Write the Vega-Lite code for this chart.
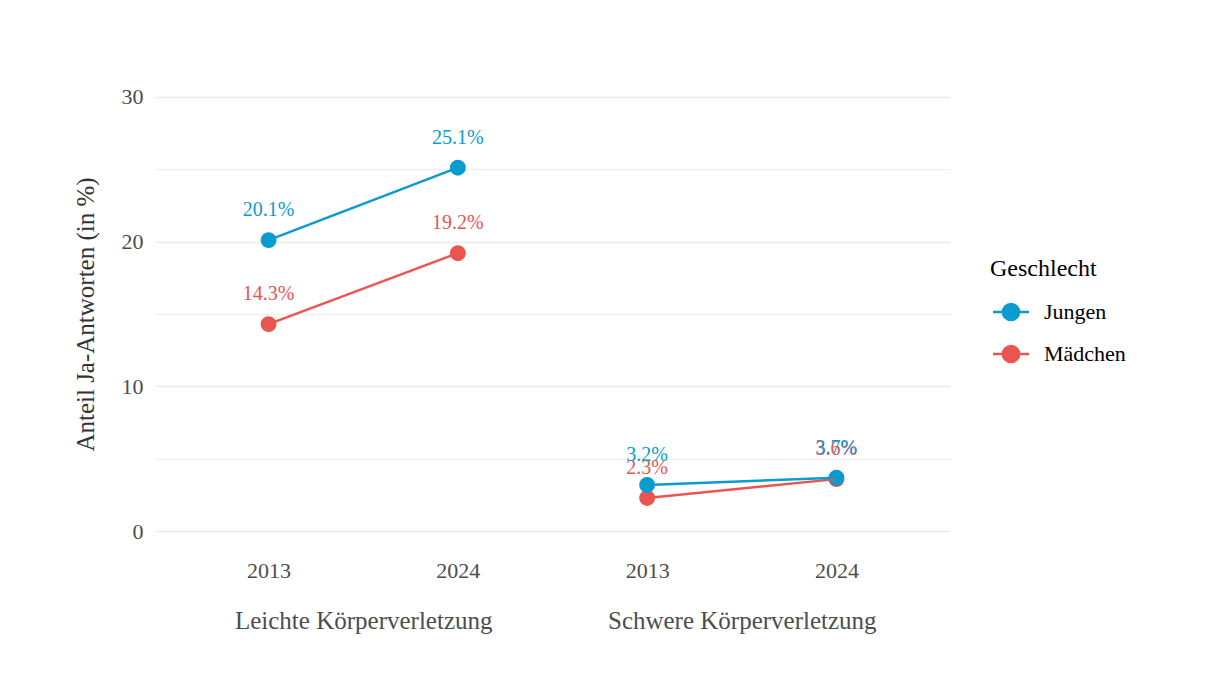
{
  "$schema": "https://vega.github.io/schema/vega-lite/v6.json",
  "width": 795,
  "height": 478,
  "autosize": {"type": "none"},
  "padding": {"left": 155, "top": 75, "right": 258, "bottom": 136},
  "background": "white",
  "config": {
    "view": {"stroke": null},
    "font": "Liberation Serif",
    "legend": {
      "titleFont": "Liberation Serif",
      "titleFontSize": 24,
      "titleFontWeight": "normal",
      "titleColor": "#000000",
      "labelFont": "Liberation Serif",
      "labelFontSize": 22,
      "labelColor": "#000000",
      "symbolSize": 324,
      "symbolStrokeWidth": 2.5,
      "symbolOffset": 10,
      "labelOffset": 22,
      "rowPadding": 14,
      "titlePadding": 20
    }
  },
  "data": {
    "values": [
      {"Delikt": "Leichte Körperverletzung", "Jahr": "2013", "Kat": "Leichte Körperverletzung|2013", "Geschlecht": "Mädchen", "Anteil": 14.3, "Label": "14.3%"},
      {"Delikt": "Leichte Körperverletzung", "Jahr": "2024", "Kat": "Leichte Körperverletzung|2024", "Geschlecht": "Mädchen", "Anteil": 19.2, "Label": "19.2%"},
      {"Delikt": "Schwere Körperverletzung", "Jahr": "2013", "Kat": "Schwere Körperverletzung|2013", "Geschlecht": "Mädchen", "Anteil": 2.3, "Label": "2.3%"},
      {"Delikt": "Schwere Körperverletzung", "Jahr": "2024", "Kat": "Schwere Körperverletzung|2024", "Geschlecht": "Mädchen", "Anteil": 3.6, "Label": "3.6%"},
      {"Delikt": "Leichte Körperverletzung", "Jahr": "2013", "Kat": "Leichte Körperverletzung|2013", "Geschlecht": "Jungen", "Anteil": 20.1, "Label": "20.1%"},
      {"Delikt": "Leichte Körperverletzung", "Jahr": "2024", "Kat": "Leichte Körperverletzung|2024", "Geschlecht": "Jungen", "Anteil": 25.1, "Label": "25.1%"},
      {"Delikt": "Schwere Körperverletzung", "Jahr": "2013", "Kat": "Schwere Körperverletzung|2013", "Geschlecht": "Jungen", "Anteil": 3.2, "Label": "3.2%"},
      {"Delikt": "Schwere Körperverletzung", "Jahr": "2024", "Kat": "Schwere Körperverletzung|2024", "Geschlecht": "Jungen", "Anteil": 3.7, "Label": "3.7%"}
    ]
  },
  "layer": [
    {
      "mark": {"type": "point", "opacity": 0, "size": 1},
      "encoding": {
        "x": {
          "field": "Delikt",
          "type": "nominal",
          "scale": {"type": "point", "padding": 0.55},
          "axis": {
            "orient": "bottom",
            "title": null,
            "labelAngle": 0,
            "labelLimit": 0,
            "labelFontSize": 25,
            "labelFont": "Liberation Serif",
            "labelColor": "#4D4D4D",
            "labelBaseline": "alphabetic",
            "labelPadding": 75,
            "domain": false,
            "ticks": false,
            "tickSize": 0,
            "grid": false
          }
        }
      }
    },
    {
      "encoding": {
        "x": {
          "field": "Kat",
          "type": "nominal",
          "scale": {
            "type": "point",
            "padding": 0.6,
            "domain": ["Leichte Körperverletzung|2013", "Leichte Körperverletzung|2024", "Schwere Körperverletzung|2013", "Schwere Körperverletzung|2024"]
          },
          "axis": {
            "orient": "bottom",
            "title": null,
            "labelAngle": 0,
            "labelLimit": 0,
            "labelExpr": "split(datum.label, '|')[1]",
            "labelFontSize": 22,
            "labelFont": "Liberation Serif",
            "labelColor": "#4D4D4D",
            "labelBaseline": "alphabetic",
            "labelPadding": 24,
            "domain": false,
            "ticks": false,
            "tickSize": 0,
            "grid": false
          }
        },
        "y": {
          "field": "Anteil",
          "type": "quantitative",
          "scale": {"domain": [-1.5, 31.5], "nice": false, "zero": false},
          "axis": {
            "title": "Anteil Ja-Antworten (in %)",
            "values": [0, 5, 10, 15, 20, 25, 30],
            "labelExpr": "datum.value % 10 === 0 ? datum.label : ''",
            "grid": true,
            "gridColor": "#EBEBEB",
            "gridWidth": {"condition": {"test": "datum.value % 10 === 0", "value": 1.6}, "value": 0.9},
            "domain": false,
            "ticks": false,
            "tickSize": 0,
            "labelPadding": 12,
            "labelFontSize": 22,
            "labelFont": "Liberation Serif",
            "labelColor": "#4D4D4D",
            "titleFont": "Liberation Serif",
            "titleFontSize": 25,
            "titleFontWeight": "normal",
            "titleColor": "#333333",
            "titlePadding": 23
          }
        }
      },
      "layer": [
        {
          "mark": {"type": "point", "filled": true, "size": 254, "opacity": 1, "strokeWidth": 0},
          "encoding": {
            "fill": {
              "field": "Geschlecht",
              "type": "nominal",
              "scale": {"domain": ["Jungen", "Mädchen"], "range": ["#0A9BCF", "#E9554F"]},
              "legend": {
                "title": "Geschlecht",
                "orient": "none",
                "legendX": 835,
                "legendY": 182,
                "symbolType": "M-2,0L2,0M0.9,0A0.9,0.9 0 1,1 -0.9,0A0.9,0.9 0 1,1 0.9,0Z"
              }
            },
            "stroke": {
              "field": "Geschlecht",
              "type": "nominal",
              "scale": {"domain": ["Jungen", "Mädchen"], "range": ["#0A9BCF", "#E9554F"]},
              "legend": {
                "title": "Geschlecht",
                "orient": "none",
                "legendX": 835,
                "legendY": 182,
                "symbolType": "M-2,0L2,0M0.9,0A0.9,0.9 0 1,1 -0.9,0A0.9,0.9 0 1,1 0.9,0Z"
              }
            }
          }
        },
        {
          "mark": {"type": "line", "strokeWidth": 2.5},
          "encoding": {
            "stroke": {
              "field": "Geschlecht",
              "type": "nominal",
              "scale": {"domain": ["Jungen", "Mädchen"], "range": ["#0A9BCF", "#E9554F"]},
              "legend": null
            },
            "detail": {"field": "Delikt", "type": "nominal"}
          }
        },
        {
          "mark": {"type": "text", "fontSize": 20, "font": "Liberation Serif", "baseline": "alphabetic", "dy": -24},
          "encoding": {
            "text": {"field": "Label", "type": "nominal"},
            "fill": {
              "field": "Geschlecht",
              "type": "nominal",
              "scale": {"domain": ["Jungen", "Mädchen"], "range": ["#0A9BCF", "#E9554F"]},
              "legend": null
            }
          }
        }
      ]
    }
  ],
  "resolve": {"scale": {"x": "independent"}, "axis": {"x": "independent"}}
}
